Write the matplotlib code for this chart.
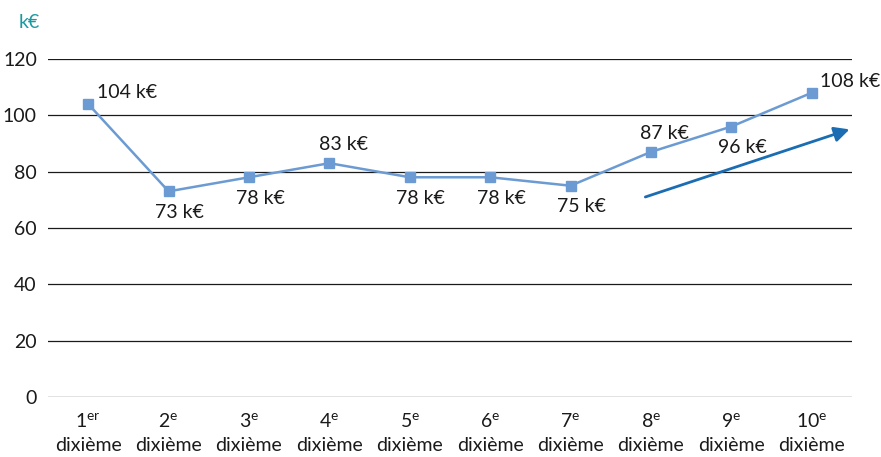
import matplotlib
matplotlib.use("Agg")
import matplotlib.pyplot as plt

plt.rcParams['font.family'] = ['Lato', 'DejaVu Sans']
plt.rcParams['mathtext.fontset'] = 'custom'
plt.rcParams['mathtext.rm'] = 'Lato'
plt.rcParams['mathtext.it'] = 'Lato'

ordinals = ["1$^{\\mathrm{er}}$", "2$^{\\mathrm{e}}$", "3$^{\\mathrm{e}}$", "4$^{\\mathrm{e}}$", "5$^{\\mathrm{e}}$",
            "6$^{\\mathrm{e}}$", "7$^{\\mathrm{e}}$", "8$^{\\mathrm{e}}$", "9$^{\\mathrm{e}}$", "10$^{\\mathrm{e}}$"]
values = [104, 73, 78, 83, 78, 78, 75, 87, 96, 108]
label_pos = ["right", "below", "below", "above", "below", "below", "below", "above", "below", "right"]
yticks = [0, 20, 40, 60, 80, 100, 120]
arrow_start = (6.93, 71)
arrow_end = (9.47, 95)

FS = 14
fig = plt.figure(figsize=(8.81, 4.57), dpi=100)
ax = fig.add_axes([0.0545, 0.1313, 0.9125, 0.7397])
x = list(range(len(values)))

for t in yticks:
    ax.axhline(t, color="#1a1a1a", lw=0.9, zorder=1)

ax.plot(x, values, color="#6b9bd2", lw=1.8, marker="s", markersize=6.5,
        markerfacecolor="#6b9bd2", markeredgecolor="#6b9bd2", zorder=3)

for xi, v, p in zip(x, values, label_pos):
    txt = f"{v} k€"
    if p == "right":
        ax.annotate(txt, (xi, v), xytext=(6, 8), textcoords="offset points",
                    ha="left", va="center", fontsize=FS, color="#1a1a1a")
    elif p == "above":
        ax.annotate(txt, (xi, v), xytext=(10, 7), textcoords="offset points",
                    ha="center", va="bottom", fontsize=FS, color="#1a1a1a")
    else:
        ax.annotate(txt, (xi, v), xytext=(8, -9), textcoords="offset points",
                    ha="center", va="top", fontsize=FS, color="#1a1a1a")

ax.annotate("", xy=arrow_end, xytext=arrow_start,
            arrowprops=dict(arrowstyle="-|>,head_length=0.9,head_width=0.45",
                            color="#1a6db3", lw=2.0, shrinkA=0, shrinkB=0), zorder=4)

ax.set_xlim(-0.5, 9.5)
ax.set_ylim(0, 120)
ax.set_yticks(yticks)
ax.set_yticklabels([str(t) for t in yticks], fontsize=FS, color="#1a1a1a")
ax.set_xticks(x)
ax.set_xticklabels([o + "\ndixième" for o in ordinals], fontsize=FS, color="#1a1a1a", linespacing=1.45)
ax.tick_params(axis="y", length=0, pad=8)
ax.tick_params(axis="x", length=0, pad=11)
for s in ax.spines.values():
    s.set_visible(False)

fig.text(0.021, 0.95, "k€", fontsize=FS, color="#1a9aa0", ha="left", va="center")

fig.savefig("out.png", dpi=100)
